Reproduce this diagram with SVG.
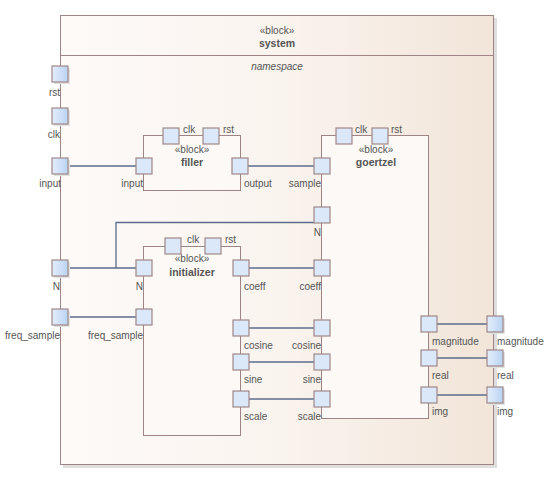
<svg xmlns="http://www.w3.org/2000/svg" width="558" height="477" viewBox="0 0 558 477">
<defs>
<linearGradient id="sysg" x1="0" y1="0" x2="1" y2="0">
<stop offset="0" stop-color="#fdfaf8"/>
<stop offset="0.5" stop-color="#faf4ef"/>
<stop offset="1" stop-color="#f2e5d9"/>
</linearGradient>
<linearGradient id="portg" x1="0" y1="0" x2="1" y2="0">
<stop offset="0" stop-color="#e4eefb"/>
<stop offset="1" stop-color="#b9d3f2"/>
</linearGradient>
<style>
.sys{fill:url(#sysg);stroke:#9e8484;stroke-width:1}
.blk{fill:#fcf9f6;stroke:#9e8484;stroke-width:1}
.port{fill:#dae8fa;stroke:#a08888;stroke-width:1.2}
.sport{fill:url(#portg);stroke:#a08888;stroke-width:1.2}
.shd{fill:#dedede}
.pshd{fill:#e2e2e2}
.con{fill:none;stroke:#5d6b8c;stroke-width:1.3}
text{font-family:"Liberation Sans",Arial,sans-serif;font-size:10px;fill:#555555}
.e{text-anchor:end}
.m{text-anchor:middle}
.b{font-weight:bold;font-size:10.5px}
.i{font-style:italic}
</style>
</defs>

<g id="system">
<rect class="shd" x="63" y="18" width="434" height="450"/>
<rect class="sys" x="60.5" y="15.5" width="433" height="449"/>
<line x1="60.5" y1="55.5" x2="493.5" y2="55.5" stroke="#9e8484" stroke-width="1"/>
<text class="m" x="277" y="34">«block»</text>
<text class="m b" x="277" y="47">system</text>
<text class="m i" x="277" y="70">namespace</text>
</g>

<g id="connectors">
<line class="con" x1="68" y1="166" x2="136" y2="166"/>
<line class="con" x1="248" y1="166" x2="314" y2="166"/>
<line class="con" x1="68" y1="268" x2="136" y2="268"/>
<path class="con" d="M116,268 V222.5 H314"/>
<line class="con" x1="68" y1="317" x2="136" y2="317"/>
<line class="con" x1="249" y1="268" x2="314" y2="268"/>
<line class="con" x1="249" y1="328" x2="314" y2="328"/>
<line class="con" x1="249" y1="362" x2="314" y2="362"/>
<line class="con" x1="249" y1="399" x2="314" y2="399"/>
<line class="con" x1="437" y1="324" x2="487" y2="324"/>
<line class="con" x1="437" y1="358" x2="487" y2="358"/>
<line class="con" x1="437" y1="395" x2="487" y2="395"/>
</g>

<g id="filler">
<rect class="blk" x="143.5" y="135.5" width="97" height="55"/>
<text class="m" x="192" y="153">«block»</text>
<text class="m b" x="192" y="166">filler</text>
<rect class="port" x="163" y="128" width="16" height="16"/>
<text x="183" y="133">clk</text>
<rect class="port" x="203" y="128" width="16" height="16"/>
<text x="223" y="133">rst</text>
<rect class="port" x="136" y="158" width="16" height="16"/>
<text class="e" x="143" y="187">input</text>
<rect class="port" x="232" y="158" width="16" height="16"/>
<text x="244" y="187">output</text>
</g>

<g id="goertzel">
<rect class="blk" x="321.5" y="135.5" width="107" height="283"/>
<text class="m" x="376" y="153">«block»</text>
<text class="m b" x="376" y="166">goertzel</text>
<rect class="port" x="336" y="128" width="16" height="16"/>
<text x="355" y="133">clk</text>
<rect class="port" x="372" y="128" width="16" height="16"/>
<text x="391" y="133">rst</text>
<rect class="port" x="314" y="158" width="16" height="16"/>
<text class="e" x="321" y="187">sample</text>
<rect class="port" x="314" y="207" width="16" height="16"/>
<text class="e" x="321" y="236">N</text>
<rect class="port" x="314" y="260" width="16" height="16"/>
<text class="e" x="321" y="290">coeff</text>
<rect class="port" x="314" y="320" width="16" height="16"/>
<text class="e" x="321" y="349">cosine</text>
<rect class="port" x="314" y="354" width="16" height="16"/>
<text class="e" x="321" y="383">sine</text>
<rect class="port" x="314" y="391" width="16" height="16"/>
<text class="e" x="321" y="420">scale</text>
<rect class="port" x="421" y="316" width="16" height="16"/>
<text x="432" y="345">magnitude</text>
<rect class="port" x="421" y="350" width="16" height="16"/>
<text x="432" y="379">real</text>
<rect class="port" x="421" y="387" width="16" height="16"/>
<text x="432" y="415">img</text>
</g>

<g id="initializer">
<rect class="blk" x="143.5" y="246.5" width="97" height="189"/>
<text class="m" x="192" y="262">«block»</text>
<text class="m b" x="192" y="276">initializer</text>
<rect class="port" x="165" y="238" width="16" height="16"/>
<text x="187" y="243">clk</text>
<rect class="port" x="205" y="238" width="16" height="16"/>
<text x="225" y="243">rst</text>
<rect class="port" x="136" y="260" width="16" height="16"/>
<text class="e" x="143" y="290">N</text>
<rect class="port" x="136" y="309" width="16" height="16"/>
<text class="e" x="143" y="339">freq_sample</text>
<rect class="port" x="233" y="260" width="16" height="16"/>
<text x="244" y="290">coeff</text>
<rect class="port" x="233" y="320" width="16" height="16"/>
<text x="244" y="349">cosine</text>
<rect class="port" x="233" y="354" width="16" height="16"/>
<text x="244" y="383">sine</text>
<rect class="port" x="233" y="391" width="16" height="16"/>
<text x="244" y="420">scale</text>
</g>

<g id="system-ports">
<rect class="pshd" x="54" y="68" width="16" height="16"/>
<rect class="sport" x="52" y="66" width="16" height="16"/>
<text class="e" x="60" y="96">rst</text>
<rect class="pshd" x="54" y="110" width="16" height="16"/>
<rect class="sport" x="52" y="108" width="16" height="16"/>
<text class="e" x="60" y="138">clk</text>
<rect class="pshd" x="54" y="160" width="16" height="16"/>
<rect class="sport" x="52" y="158" width="16" height="16"/>
<text class="e" x="61" y="187">input</text>
<rect class="pshd" x="54" y="262" width="16" height="16"/>
<rect class="sport" x="52" y="260" width="16" height="16"/>
<text class="e" x="60" y="290">N</text>
<rect class="pshd" x="54" y="311" width="16" height="16"/>
<rect class="sport" x="52" y="309" width="16" height="16"/>
<text class="e" x="60" y="339">freq_sample</text>
<rect class="pshd" x="489" y="318" width="16" height="16"/>
<rect class="sport" x="487" y="316" width="16" height="16"/>
<text x="497" y="345">magnitude</text>
<rect class="pshd" x="489" y="352" width="16" height="16"/>
<rect class="sport" x="487" y="350" width="16" height="16"/>
<text x="497" y="379">real</text>
<rect class="pshd" x="489" y="389" width="16" height="16"/>
<rect class="sport" x="487" y="387" width="16" height="16"/>
<text x="497" y="415">img</text>
</g>
</svg>
